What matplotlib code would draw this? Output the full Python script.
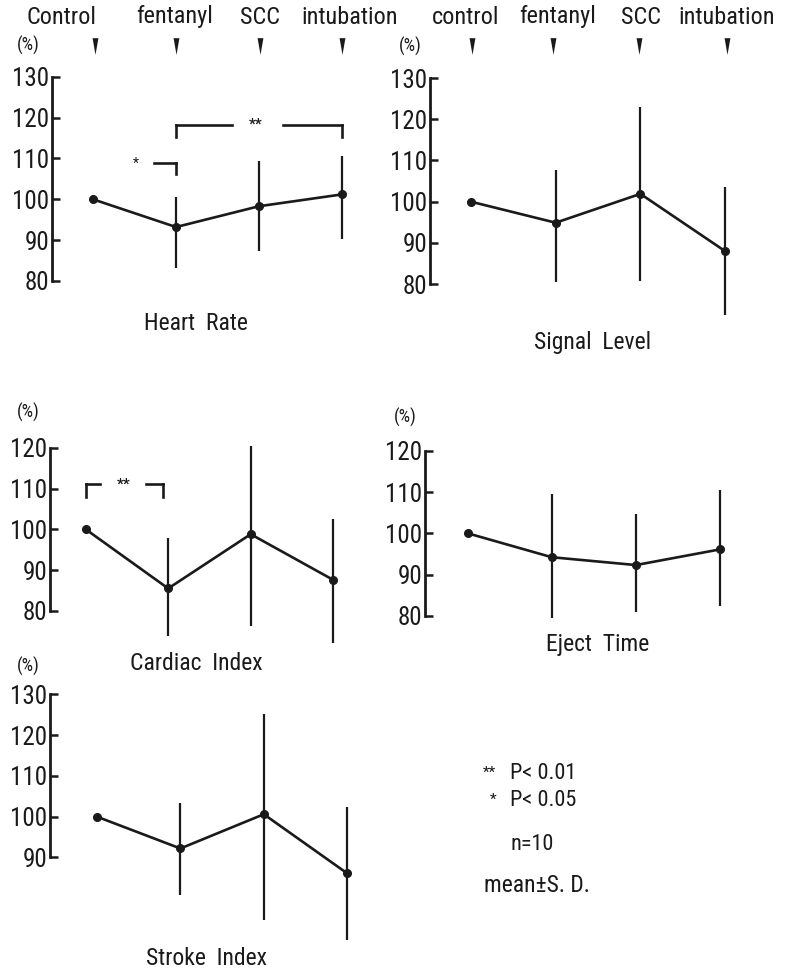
import matplotlib
matplotlib.use("Agg")
import matplotlib.pyplot as plt
from matplotlib import font_manager
from matplotlib.lines import Line2D


def pick_font(names):
    for n in names:
        try:
            font_manager.findfont(font_manager.FontProperties(family=n),
                                  fallback_to_default=False)
            return n
        except ValueError:
            pass
    return "DejaVu Sans"


FONT = pick_font(["Liberation Sans Narrow", "DejaVu Sans Condensed",
                  "Roboto Condensed", "Roboto"])
plt.rcParams['font.family'] = [FONT, 'DejaVu Sans']

W, H = 786, 971

stages = ["control", "fentanyl", "SCC", "intubation"]

# means and ends of the S.D. bars (%)
hr_mean = [100, 93.2, 98.3, 101.2]
hr_lo = [100, 83.2, 87.3, 90.2]
hr_hi = [100, 100.6, 109.5, 110.7]

sl_mean = [100, 94.9, 101.9, 88.0]
sl_lo = [100, 80.4, 80.8, 72.6]
sl_hi = [100, 107.7, 122.9, 103.6]

ci_mean = [100, 85.5, 98.8, 87.6]
ci_lo = [100, 73.9, 76.3, 72.1]
ci_hi = [100, 97.8, 120.4, 102.5]

et_mean = [100, 94.2, 92.3, 96.1]
et_lo = [100, 79.4, 80.8, 82.4]
et_hi = [100, 109.5, 104.7, 110.5]

si_mean = [100, 92.2, 100.6, 86.1]
si_lo = [100, 80.8, 74.7, 69.8]
si_hi = [100, 103.3, 125.2, 102.3]

INK = "#1a1a1a"
fig = plt.figure(figsize=(W / 100, H / 100), dpi=100)


def px_text(x, y, s, size=16, ha="center", va="center", **kw):
    fig.text(x / W, 1 - y / H, s, fontsize=size, ha=ha, va=va, color=INK, **kw)


def panel(spine_x, xc, dx, y100, ppu, yrange, mean, lo, hi, title, title_xy):
    ylo, yhi = 62, 133
    left = -(xc - spine_x) / dx
    right = 3.5
    bot_px = y100 + (100 - ylo) * ppu
    top_px = y100 - (yhi - 100) * ppu
    ax = fig.add_axes([spine_x / W, 1 - bot_px / H,
                       (right - left) * dx / W, (bot_px - top_px) / H])
    ax.set_xlim(left, right)
    ax.set_ylim(ylo, yhi)
    ax.patch.set_alpha(0)
    for s in ["top", "right", "bottom"]:
        ax.spines[s].set_visible(False)
    ax.spines["left"].set_bounds(yrange[0], yrange[1])
    ax.spines["left"].set_linewidth(2)
    ax.spines["left"].set_color(INK)
    ax.set_xticks([])
    ticks = list(range(yrange[0], yrange[1] + 1, 10))
    ax.set_yticks(ticks)
    ax.tick_params(axis="y", direction="in", length=6, width=1.8, pad=2,
                   labelsize=18, colors=INK)
    ax.set_yticks([100], minor=True)
    ax.tick_params(axis="y", which="minor", direction="in", length=13,
                   width=1.8, colors=INK)
    xs = range(len(mean))
    yerr = [[m - l for m, l in zip(mean, lo)], [h - m for m, h in zip(mean, hi)]]
    ax.errorbar(xs, mean, yerr=yerr, fmt="none", ecolor=INK, elinewidth=1.6,
                capsize=0)
    ax.plot(xs, mean, "-o", color=INK, lw=1.9, ms=5.5)
    px_text(title_xy[0], title_xy[1], title, size=17)
    return ax


def bracket(ax, x0, x1, y, ytick, gap, star_x, stars):
    ax.plot([x0, gap[0]], [y, y], color=INK, lw=1.9)
    ax.plot([gap[1], x1], [y, y], color=INK, lw=1.9)
    ax.plot([x0, x0], [y, ytick], color=INK, lw=1.9)
    ax.plot([x1, x1], [y, ytick], color=INK, lw=1.9)
    ax.text(star_x, y, stars, ha="center", va="center", fontsize=11,
            fontweight="bold", color=INK)


ax1 = panel(52, 93, 83, 199.3, 4.08, (80, 130), hr_mean, hr_lo, hr_hi,
            "Heart  Rate", (196, 323))
bracket(ax1, 1, 3, 118.2, 115.3, (1.68, 2.29), 1.96, "**")
ax1.plot([0.735, 1], [108.9, 108.9], color=INK, lw=1.9)
ax1.plot([1, 1], [108.9, 106.2], color=INK, lw=1.9)
ax1.text(0.52, 108.6, "*", ha="center", va="center", fontsize=10, color=INK)

panel(430, 471, 84.7, 201.7, 4.12, (80, 130), sl_mean, sl_lo, sl_hi,
      "Signal  Level", (593, 342))

ax3 = panel(50, 85.7, 82.5, 529.3, 4.08, (80, 120), ci_mean, ci_lo, ci_hi,
            "Cardiac  Index", (196, 664))
bracket(ax3, 0, 0.94, 111, 108, (0.17, 0.73), 0.46, "**")

panel(425, 467.7, 84.1, 533.3, 4.125, (80, 120), et_mean, et_lo, et_hi,
      "Eject  Time", (598, 645))

panel(50, 97, 83.4, 816.7, 4.075, (90, 130), si_mean, si_lo, si_hi,
      "Stroke  Index", (207, 958))

# stage labels and arrows
top_left = ["Control", "fentanyl", "SCC", "intubation"]
top_left_x = [62, 175, 260, 350]
top_right_x = [466, 558, 641, 727]
arrow_left_x = [95, 176, 260, 342]
arrow_right_x = [472, 553, 639, 727]
for s, x in zip(top_left, top_left_x):
    px_text(x, 17, s, size=17.5)
for s, x in zip(stages, top_right_x):
    px_text(x, 17, s, size=17.5)
arrow = [(-0.35, 1), (0.35, 1), (0, -1)]
for x in arrow_left_x + arrow_right_x:
    fig.add_artist(Line2D([x / W], [1 - 46 / H], transform=fig.transFigure,
                          marker=arrow, ms=12, color=INK, mew=0, ls="none"))

for x, y in [(28, 45), (410, 46), (28, 412), (405, 417), (28, 666)]:
    px_text(x, y, "(%)", size=13)

# legend notes
px_text(483, 773, "**", size=11, ha="left")
px_text(510, 773, "P< 0.01", size=16, ha="left")
px_text(490, 800, "*", size=11, ha="left")
px_text(510, 800, "P< 0.05", size=16, ha="left")
px_text(510, 845, "n=10", size=16, ha="left")
px_text(484, 885, "mean\u00b1S. D.", size=17, ha="left")

fig.savefig("out.png", dpi=100)
